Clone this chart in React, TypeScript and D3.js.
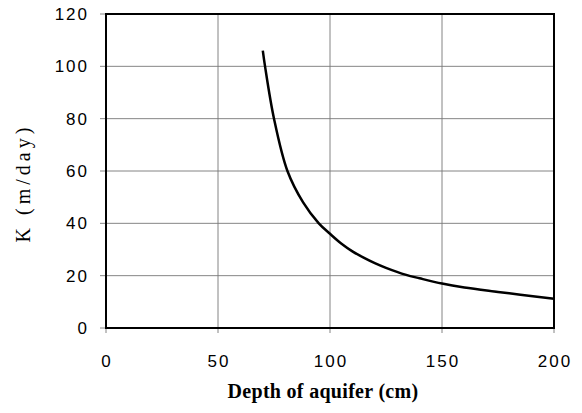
import * as d3 from 'd3';
import React, { useEffect, useRef } from 'react';

const depth = [70, 71, 75, 81, 88, 95, 100, 105, 110, 115, 120, 125, 134, 140, 150, 160, 175, 185, 200];
const kValues = [106, 100, 80, 60, 48, 40, 36, 32.3, 29.3, 26.9, 24.8, 23, 20.3, 19, 17, 15.5, 13.8, 12.7, 11.2];
const xTicks = [0, 50, 100, 150, 200];
const yTicks = [0, 20, 40, 60, 80, 100, 120];

const App: React.FC = () => {
  const ref = useRef<SVGSVGElement>(null);

  useEffect(() => {
    if (!ref.current) return;
    const width = 582;
    const height = 413;
    const left = 106, right = 554, top = 14, bottom = 328;

    const svg = d3.select(ref.current);
    svg.selectAll('*').remove();
    svg.attr('width', width).attr('height', height);

    const x = d3.scaleLinear().domain([0, 200]).range([left, right]);
    const y = d3.scaleLinear().domain([0, 120]).range([bottom, top]);

    // grid
    svg.append('g')
      .selectAll('line')
      .data(xTicks)
      .enter()
      .append('line')
      .attr('x1', d => x(d)).attr('x2', d => x(d))
      .attr('y1', top).attr('y2', bottom + 5)
      .attr('stroke', '#777')
      .attr('stroke-width', 0.9);

    svg.append('g')
      .selectAll('line')
      .data(yTicks)
      .enter()
      .append('line')
      .attr('x1', left - 6).attr('x2', right)
      .attr('y1', d => y(d)).attr('y2', d => y(d))
      .attr('stroke', '#777')
      .attr('stroke-width', 0.9);

    // frame
    svg.append('rect')
      .attr('x', left).attr('y', top)
      .attr('width', right - left).attr('height', bottom - top)
      .attr('fill', 'none')
      .attr('stroke', '#000')
      .attr('stroke-width', 2);

    // tick labels
    svg.append('g')
      .selectAll('text')
      .data(yTicks)
      .enter()
      .append('text')
      .attr('x', 89)
      .attr('y', d => y(d))
      .attr('dy', '0.36em')
      .attr('text-anchor', 'end')
      .style('font-family', 'Liberation Sans, Arial, sans-serif')
      .style('font-size', '17px')
      .style('letter-spacing', '2px')
      .text(d => d);

    svg.append('g')
      .selectAll('text')
      .data(xTicks)
      .enter()
      .append('text')
      .attr('x', d => x(d) + 1)
      .attr('y', 367)
      .attr('text-anchor', 'middle')
      .style('font-family', 'Liberation Sans, Arial, sans-serif')
      .style('font-size', '17px')
      .style('letter-spacing', '2px')
      .text(d => d);

    // curve
    const pts = depth.map((d, i) => [d, kValues[i]] as [number, number]);
    const line = d3.line<[number, number]>()
      .x(d => x(d[0]))
      .y(d => y(d[1]))
      .curve(d3.curveCatmullRom.alpha(0.5));

    svg.append('path')
      .datum(pts)
      .attr('d', line)
      .attr('fill', 'none')
      .attr('stroke', '#000')
      .attr('stroke-width', 2.5);

    // axis titles
    svg.append('text')
      .attr('x', 323)
      .attr('y', 398)
      .attr('text-anchor', 'middle')
      .style('font-family', 'Liberation Serif, Times New Roman, serif')
      .style('font-weight', 'bold')
      .style('font-size', '20px')
      .style('letter-spacing', '0.3px')
      .text('Depth of aquifer (cm)');

    svg.append('text')
      .attr('transform', 'translate(30,183) rotate(-90)')
      .attr('text-anchor', 'middle')
      .style('font-family', 'Liberation Serif, Times New Roman, serif')
      .style('font-size', '20px')
      .style('letter-spacing', '4px')
      .text('K (m/day)');
  }, []);

  return <svg ref={ref} style={{ position: 'absolute', left: 0, top: 0 }} />;
};

export default App;
